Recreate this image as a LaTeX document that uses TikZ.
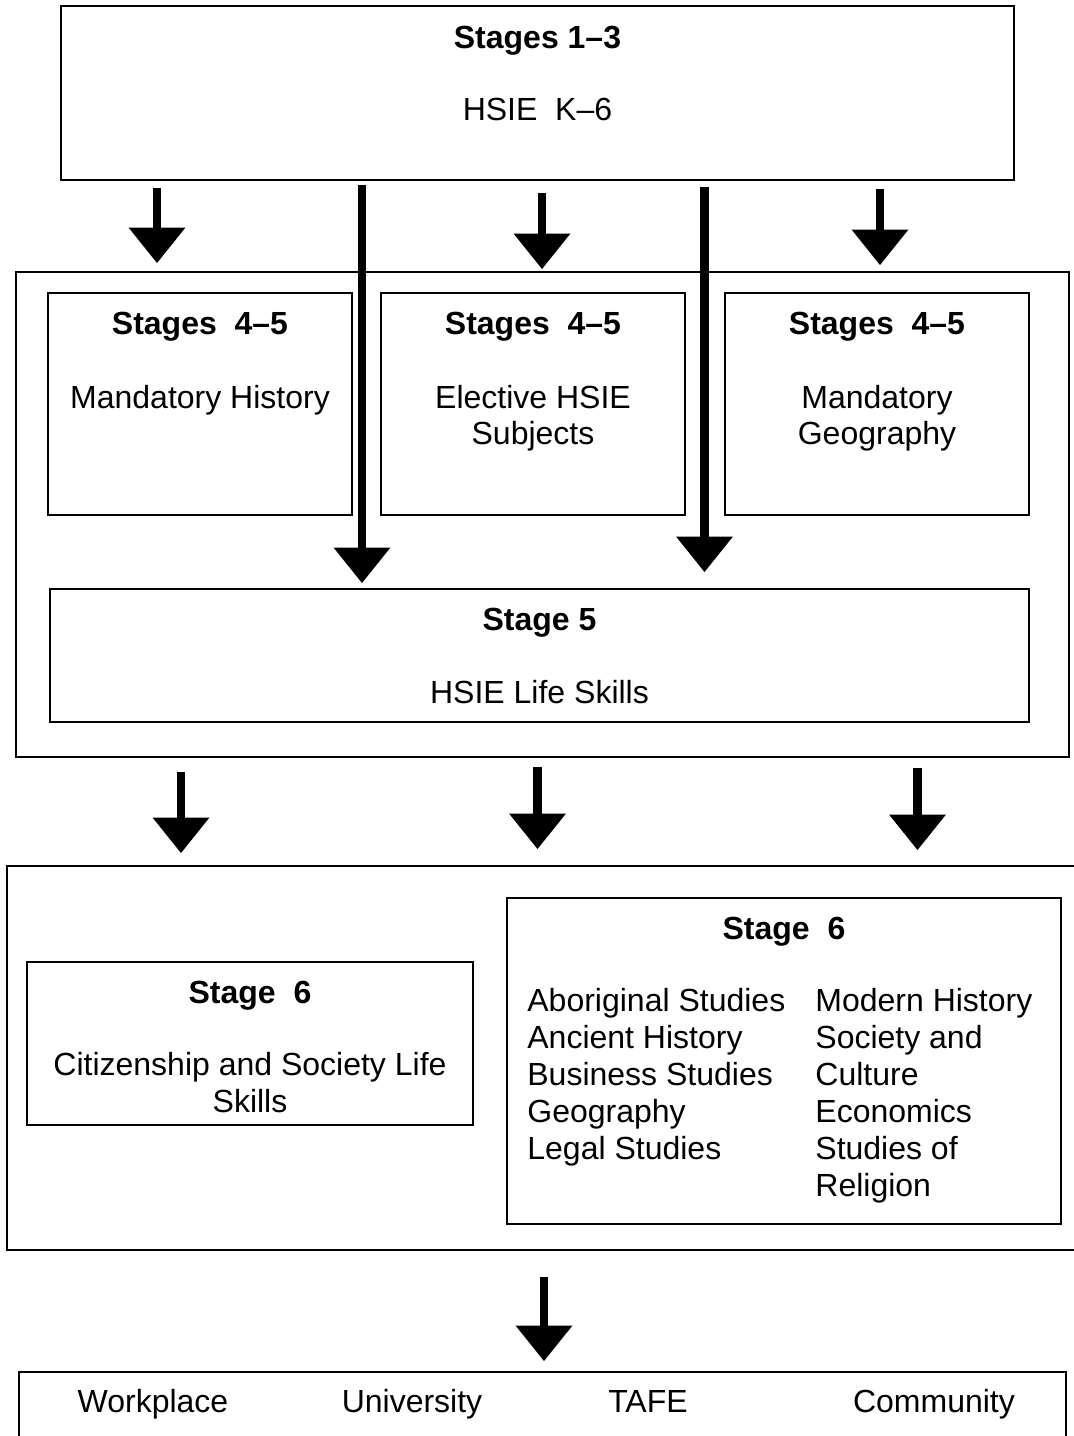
\documentclass[tikz,border=0pt]{standalone}
\usepackage{fontspec}
\setmainfont{Liberation Sans}
\usetikzlibrary{arrows.meta,fit}
\begin{document}
\begin{tikzpicture}[x=0.5pt,y=-0.5pt,
  box/.style={draw, line width=0.8pt, inner sep=0pt, outer sep=0pt},
  txt/.style={anchor=base, inner sep=0pt, font=\fontsize{16}{18.5}\selectfont},
  lft/.style={txt, anchor=base west},
  hd/.style={anchor=base, inner sep=0pt, font=\fontsize{16}{18.5}\selectfont\bfseries},
  fat/.style={line width=4.25pt, -{Triangle[width=28.5pt,length=17.75pt,line width=0pt]}}
]
\useasboundingbox (0,0) rectangle (1074,1436);

% boxes
\node[box, fit={(61,6) (1014,180)}] (top) {};
\node[box, fit={(16,272) (1069,757)}] (mid) {};
\node[box, fit={(48,293) (352,515)}] (hA) {};
\node[box, fit={(381,293) (685,515)}] (hB) {};
\node[box, fit={(725,293) (1029,515)}] (hC) {};
\node[box, fit={(50,589) (1029,722)}] (s5) {};
\node[box, fit={(7,866) (1090,1250)}] (low) {};
\node[box, fit={(27,962) (473,1125)}] (cit) {};
\node[box, fit={(507,898) (1061,1224)}] (s6) {};
\node[box, fit={(19,1372) (1066,1460)}] (dest) {};

% texts
\node[hd] (t1) at (537.5,48) {Stages 1–3};
\node[txt] (t2) at (537.5,120) {HSIE\ \ K–6};

\node[hd] (a1) at (200,334) {Stages\ \ 4–5};
\node[txt] (a2) at (200,408) {Mandatory History};

\node[hd] (b1) at (533,334) {Stages\ \ 4–5};
\node[txt] (b2) at (533,408) {Elective HSIE};
\node[txt] (b3) at (533,444) {Subjects};

\node[hd] (c1) at (877,334) {Stages\ \ 4–5};
\node[txt] (c2) at (877,408) {Mandatory};
\node[txt] (c3) at (877,444) {Geography};

\node[hd] (d1) at (539.5,630) {Stage 5};
\node[txt] (d2) at (539.5,703) {HSIE Life Skills};

\node[hd] (e1) at (250,1003) {Stage\ \ 6};
\node[txt] (e2) at (250,1075) {Citizenship and Society Life};
\node[txt] (e3) at (250,1112) {Skills};

\node[hd] (f0) at (784,939) {Stage\ \ 6};
\foreach \t [count=\i from 0] in {Aboriginal Studies,Ancient History,Business Studies,Geography,Legal Studies}
  \node[lft] (fl\i) at (527,1011+37*\i) {\t};
\foreach \t [count=\i from 0] in {Modern History,Society and,Culture,Economics,Studies of,Religion}
  \node[lft] (fr\i) at (815,1011+37*\i) {\t};

\node[txt] (g1) at (153,1412) {Workplace};
\node[txt] (g2) at (412,1412) {University};
\node[txt] (g3) at (648,1412) {TAFE};
\node[txt] (g4) at (934,1412) {Community};

% arrow end points
\coordinate (p1s) at (157,188);   \coordinate (p1e) at (157,263);
\coordinate (p2s) at (542,193);   \coordinate (p2e) at (542,269);
\coordinate (p3s) at (880,189);   \coordinate (p3e) at (880,265);
\coordinate (q1s) at (362,185);   \coordinate (q1e) at (362,583);
\coordinate (q2s) at (704.5,187); \coordinate (q2e) at (704.5,572);
\coordinate (r1s) at (181,772);   \coordinate (r1e) at (181,853);
\coordinate (r2s) at (537.5,767); \coordinate (r2e) at (537.5,849);
\coordinate (r3s) at (917.5,768); \coordinate (r3e) at (917.5,850);
\coordinate (u1s) at (544,1277);  \coordinate (u1e) at (544,1361);

\draw[fat] (p1s) -- (p1e);
\draw[fat] (p2s) -- (p2e);
\draw[fat] (p3s) -- (p3e);
\draw[fat] (q1s) -- (q1e);
\draw[fat] (q2s) -- (q2e);
\draw[fat] (r1s) -- (r1e);
\draw[fat] (r2s) -- (r2e);
\draw[fat] (r3s) -- (r3e);
\draw[fat] (u1s) -- (u1e);
\end{tikzpicture}
\end{document}
